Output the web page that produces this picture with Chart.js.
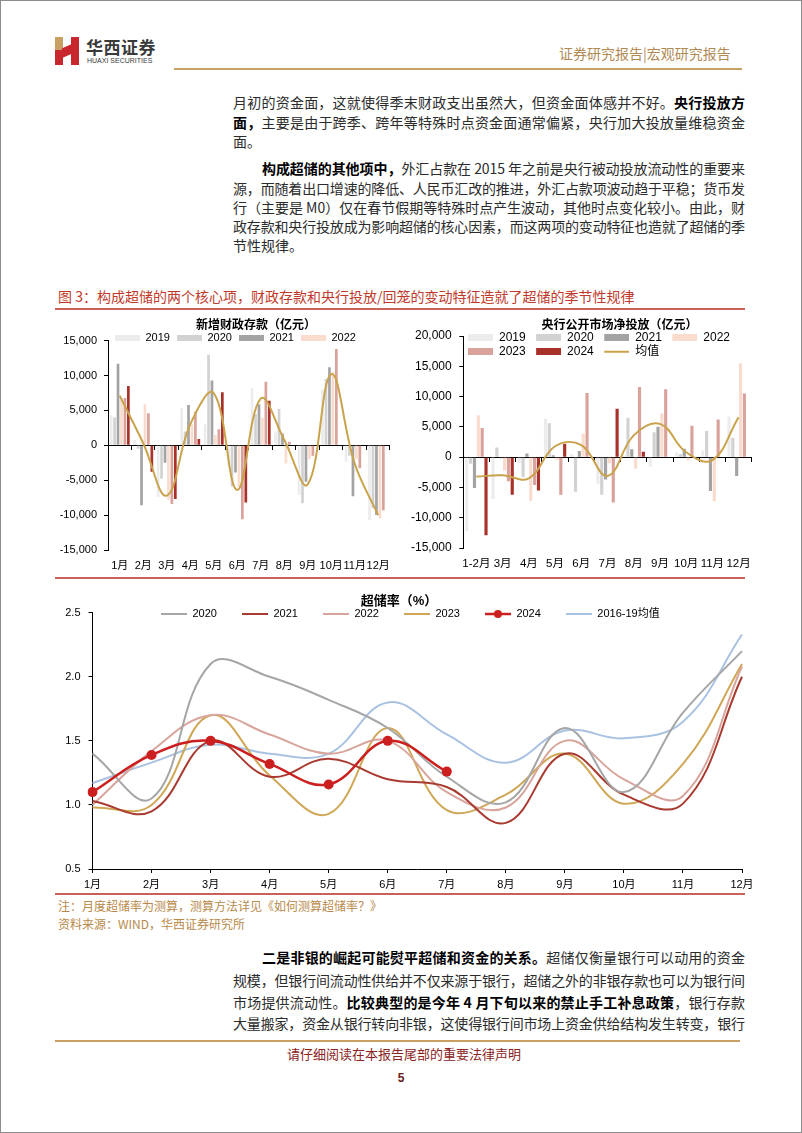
<!DOCTYPE html>
<html lang="zh-CN">
<head>
<meta charset="utf-8">
<script src="https://cdn.jsdelivr.net/npm/chart.js@4.4.1/dist/chart.umd.min.js"></script>
<style>
  html,body{margin:0;padding:0;background:#fff;}
  #page{position:relative;width:802px;height:1133px;overflow:hidden;font-family:'Noto Sans CJK SC','Noto Sans',sans-serif;}
  .frame{position:absolute;left:0;top:0;width:800px;height:1131px;border:1px solid #8d8d8d;}
  .ln{position:absolute;left:233px;width:512px;height:20px;font-size:14px;line-height:20px;text-align:left;white-space:nowrap;color:#2b2b2b;}
  .ln.ind{left:262px;width:483px;}
  .ln b{color:#000;font-weight:bold;}
  .abs{position:absolute;}
  canvas{position:absolute;}
</style>
</head>
<body>
<div id="page">
  <div class="frame"></div>

  <!-- logo -->
  <div class="abs" style="left:55px;top:37px;width:8px;height:13px;background:#c9a063;"></div>
  <div class="abs" style="left:55px;top:50px;width:8px;height:15px;background:#c8272d;"></div>
  <div class="abs" style="left:71px;top:37px;width:8px;height:28px;background:#c8272d;"></div>
  <div class="abs" style="left:62px;top:44px;width:10px;height:14px;background:#c8272d;clip-path:polygon(0 30%,100% 0,100% 70%,0 100%);"></div>
  <div class="abs" style="left:86px;top:37px;font-size:17px;line-height:20px;font-weight:bold;color:#3a3a3a;letter-spacing:0.5px;">华西证券</div>
  <div class="abs" style="left:87px;top:57px;font-family:'Liberation Sans',Arial,sans-serif;font-size:7px;line-height:8px;color:#3a3a3a;">HUAXI SECURITIES</div>
  <div class="abs" style="left:559px;top:44px;font-size:14px;line-height:18px;color:#b08a55;">证券研究报告|宏观研究报告</div>
  <div class="abs" style="left:174px;top:68px;width:568px;height:2px;background:#c9a063;"></div>

  <!-- paragraph text -->
  <div class="ln" style="top:92px;"><span>月初的资金面，这就使得季末财政支出虽然大，但资金面体感并不好。<b>央行投放方</b></span></div>
  <div class="ln" style="top:112px;"><span><b>面，</b>主要是由于跨季、跨年等特殊时点资金面通常偏紧，央行加大投放量维稳资金</span></div>
  <div class="ln end" style="top:131px;"><span>面。</span></div>

  <div class="ln ind" style="top:158px;"><span><b>构成超储的其他项中，</b>外汇占款在 2015 年之前是央行被动投放流动性的重要来</span></div>
  <div class="ln" style="top:178px;"><span>源，而随着出口增速的降低、人民币汇改的推进，外汇占款项波动趋于平稳；货币发</span></div>
  <div class="ln" style="top:197px;"><span>行（主要是 M0）仅在春节假期等特殊时点产生波动，其他时点变化较小。由此，财</span></div>
  <div class="ln" style="top:216px;"><span>政存款和央行投放成为影响超储的核心因素，而这两项的变动特征也造就了超储的季</span></div>
  <div class="ln end" style="top:235px;"><span>节性规律。</span></div>

  <!-- figure caption -->
  <div class="abs" style="left:58px;top:286px;font-size:14px;line-height:20px;color:#c0392b;">图 3：构成超储的两个核心项，财政存款和央行投放/回笼的变动特征造就了超储的季节性规律</div>
  <div class="abs" style="left:55px;top:308px;width:690px;height:1.5px;background:#c9605a;"></div>

  <canvas id="c1" width="350" height="262" style="left:50px;top:312px;"></canvas>
  <canvas id="c2" width="372" height="260" style="left:400px;top:312px;"></canvas>
  <div class="abs" style="left:55px;top:577px;width:690px;height:1.5px;background:#c9605a;"></div>
  <canvas id="c3" width="712" height="300" style="left:50px;top:592px;"></canvas>

  <div class="abs" style="left:55px;top:893px;width:690px;height:1.5px;background:#c9605a;"></div>
  <div class="abs" style="left:58px;top:897px;font-size:12px;line-height:17px;color:#b8894a;">注：月度超储率为测算，测算方法详见《如何测算超储率？》</div>
  <div class="abs" style="left:58px;top:915px;font-size:12px;line-height:17px;color:#b8894a;">资料来源：WIND，华西证券研究所</div>

  <!-- bottom paragraph -->
  <div class="ln ind" style="top:947px;"><span><b>二是非银的崛起可能熨平超储和资金的关系。</b>超储仅衡量银行可以动用的资金</span></div>
  <div class="ln" style="top:970px;"><span>规模，但银行间流动性供给并不仅来源于银行，超储之外的非银存款也可以为银行间</span></div>
  <div class="ln" style="top:992px;"><span>市场提供流动性。<b>比较典型的是今年 4 月下旬以来的禁止手工补息政策</b>，银行存款</span></div>
  <div class="ln" style="top:1013px;"><span>大量搬家，资金从银行转向非银，这使得银行间市场上资金供给结构发生转变，银行</span></div>

  <!-- footer -->
  <div class="abs" style="left:55px;top:1040px;width:685px;height:2px;background:#c9a063;"></div>
  <div class="abs" style="left:0;width:802px;top:1045px;text-align:center;font-size:13px;line-height:18px;color:#8b2323;padding-left:6px;box-sizing:border-box;">请仔细阅读在本报告尾部的重要法律声明</div>
  <div class="abs" style="left:0;width:802px;top:1070px;text-align:center;font-family:'Liberation Sans',Arial,sans-serif;font-size:12px;line-height:16px;font-weight:bold;color:#6b1a1a;">5</div>
</div>

<script>
// ---------------- data ----------------
const fiscalMonths = ['1月','2月','3月','4月','5月','6月','7月','8月','9月','10月','11月','12月'];
const fiscal2019 = [4300, 800, -7400, 5300, 3000, -3000, 8200, 2000, -7100, 8000, -2300, -10700];
const fiscal2020 = [4000, -500, -4800, 2000, 13000, -5900, 4500, 5200, -8300, 9500, -1500, -9000];
const fiscal2021 = [11700, -8600, -2500, 5800, 9300, -3900, 5900, 1700, -5200, 11200, -7300, -10000];
const fiscal2022 = [6500, 5900, -7800, 3000, 1500, -6000, 4000, -2600, -2000, 10500, -2000, -10500];
const fiscal2023 = [6800, 4600, -8400, 4800, 2300, -10600, 9100, 500, -1500, 13800, -3300, -9300];
const fiscal2024 = [8500, -3800, -7700, 900, 7600, -8200, 6400, null, null, null, null, null];
const fiscalMean = [7100, 300, -7200, 3000, 7500, -6400, 6700, 800, -5600, 10200, -2600, -10000];

const omoMonths = ['1-2月','3月','4月','5月','6月','7月','8月','9月','10月','11月','12月'];
const omo2019 = [-12200, -6900, -1000, 6400, 500, -4400, 300, -1600, 800, 1100, 6700];
const omo2020 = [-1100, 1600, -3300, 5600, -5700, -6200, 6500, 4100, 500, 4300, 3200];
const omo2021 = [-5100, -200, 600, 300, 1000, -3700, 1300, 5000, 1400, -5600, -3100];
const omo2022 = [6900, -2200, -7200, -500, 3900, -1000, -1900, 7200, -500, -7300, 15500];
const omo2023 = [4800, -4000, -4600, -6200, 10600, -7500, 11600, 11200, 5200, 6200, 10500];
const omo2024 = [-12900, -6200, -5500, 2200, 0, 8000, 900, null, null, null, null];
const omoMean = [-3200, -3000, -3500, 1800, 2000, -3100, 3600, 5500, 800, -500, 6600];

const rateMonths = ['1月','2月','3月','4月','5月','6月','7月','8月','9月','10月','11月','12月'];
const rate2020 = [1.40, 1.05, 2.10, 2.00, 1.82, 1.60, 1.22, 1.02, 1.60, 1.10, 1.72, 2.20];
const rate2021 = [1.03, 0.95, 1.50, 1.22, 1.36, 1.20, 1.14, 0.86, 1.40, 1.08, 1.01, 2.00];
const rate2022 = [1.00, 1.42, 1.70, 1.55, 1.40, 1.50, 1.10, 0.98, 1.50, 1.20, 1.07, 2.08];
const rate2023 = [0.98, 1.00, 1.70, 1.23, 0.93, 1.60, 0.96, 1.08, 1.40, 1.01, 1.32, 2.10];
const rate2024 = [1.10, 1.39, 1.50, 1.32, 1.16, 1.50, 1.26, null, null, null, null, null];
const rate1619 = [1.17, 1.33, 1.47, 1.40, 1.40, 1.80, 1.55, 1.33, 1.58, 1.52, 1.65, 2.33];
const rateTicks = [0.5, 1.0, 1.5, 2.0, 2.5];

// ---------------- justify body lines ----------------
document.querySelectorAll('.ln:not(.end)').forEach(el => {
  const span = el.firstElementChild;
  const w = span.getBoundingClientRect().width;
  const n = Array.from(el.textContent).length;
  const target = el.clientWidth;
  if (n > 1) el.style.letterSpacing = ((target - w) / (n - 1)) + 'px';
});

// ---------------- styles ----------------
const COL = {
  y2019:'#ececec', y2020:'#d2d2d2', y2021:'#a3a3a3', y2022:'#f9dccd', y2023:'#d9a29b', y2024:'#a8322a',
  mean:'#c9a24c',
  l2020:'#a6a6a6', l2021:'#a83a30', l2022:'#d8a59c', l2023:'#cfa756', l2024:'#cc1f1f', l1619:'#a9c2e2'
};
Chart.defaults.font.family = "'Liberation Sans', Arial, 'Noto Sans CJK SC', sans-serif";
Chart.defaults.color = '#000';

function rectMarker(color, w, h, lead) {
  lead = lead || 0;
  const c = document.createElement('canvas'); c.width = w + lead; c.height = h;
  const x = c.getContext('2d'); x.fillStyle = color; x.fillRect(lead, 0, w, h); return c;
}
function lineMarker(color, w, lw, dot, lead) {
  lead = lead || 0;
  const h = dot ? 10 : 4;
  const c = document.createElement('canvas'); c.width = w + lead; c.height = h;
  const x = c.getContext('2d');
  x.strokeStyle = color; x.lineWidth = lw;
  x.beginPath(); x.moveTo(lead, h / 2); x.lineTo(lead + w, h / 2); x.stroke();
  if (dot) { x.fillStyle = color; x.beginPath(); x.arc(lead + w / 2, h / 2, 4, 0, Math.PI * 2); x.fill(); }
  return c;
}

const placer = {
  id: 'placer',
  afterInit(chart) {
    const L = chart.legend;
    if (L && !L._zeroFit) {
      const f = L.fit;
      L.fit = function () { f.call(this); this.height = 0; };
      L._zeroFit = true;
    }
  },
  afterLayout(chart, args, o) {
    const L = chart.legend, T = chart.titleBlock;
    if (o && o.legend && L) {
      L.left = o.legend.left; L.right = o.legend.right; L.width = L.right - L.left;
      L.top = o.legend.top; L.bottom = o.legend.top + 40;
    }
    if (o && o.titleX != null && T) {
      const w = T.right - T.left;
      T.left = o.titleX - w / 2; T.right = o.titleX + w / 2;
    }
  }
};

function legendLabels(markers, extra) {
  return Object.assign({
    usePointStyle: true,
    sort: (a, b) => a.datasetIndex - b.datasetIndex,
    generateLabels(chart) {
      const items = Chart.defaults.plugins.legend.labels.generateLabels(chart);
      items.forEach(it => { it.pointStyle = markers[it.datasetIndex]; });
      return items;
    }
  }, extra);
}

function axisY(min, max, step, width, pad, size) {
  return {
    min, max,
    ticks: { stepSize: step, padding: pad, font: { size }, color: '#000' },
    grid: { drawOnChartArea: false, tickLength: 4, color: '#000' },
    border: { color: '#000' },
    afterFit: s => { s.width = width; }
  };
}

// ---------------- chart 1 (canvas at page 50,312) ----------------
const barDs = (label, data, color) => ({ label, data, backgroundColor: color, borderWidth: 0 });
new Chart(document.getElementById('c1'), {
  type: 'bar',
  data: {
    labels: fiscalMonths,
    datasets: [
      barDs('2019', fiscal2019, COL.y2019),
      barDs('2020', fiscal2020, COL.y2020),
      barDs('2021', fiscal2021, COL.y2021),
      barDs('2022', fiscal2022, COL.y2022),
      barDs('2023', fiscal2023, COL.y2023),
      barDs('2024', fiscal2024, COL.y2024),
      { type: 'line', label: '均值', data: fiscalMean, borderColor: COL.mean, backgroundColor: COL.mean,
        borderWidth: 2, pointRadius: 0, tension: 0.4, order: -1 }
    ]
  },
  options: {
    responsive: false, animation: false, devicePixelRatio: 1,
    layout: { padding: { left: 0, right: 10, top: 0, bottom: 0 } },
    datasets: { bar: { categoryPercentage: 0.88, barPercentage: 0.78 } },
    plugins: {
      title: { display: true, text: '新增财政存款（亿元）', color: '#000', font: { size: 12, weight: 'bold' }, padding: { top: 6, bottom: 8.3 } },
      legend: { display: true, align: 'start',
        labels: legendLabels([
          rectMarker(COL.y2019, 25, 6), rectMarker(COL.y2020, 25, 6), rectMarker(COL.y2021, 25, 6),
          rectMarker(COL.y2022, 25, 6), rectMarker(COL.y2023, 25, 6), rectMarker(COL.y2024, 25, 6),
          lineMarker(COL.mean, 25, 2, false)
        ], { pointStyleWidth: 25, padding: 7, font: { size: 11 }, color: '#000', filter: it => it.datasetIndex < 4 }) },
      tooltip: { enabled: false },
      placer: { legend: { left: 108 - 50, right: 350, top: 325.2 - 312 }, titleX: 256 - 50 }
    },
    scales: {
      x: { position: { y: 0 }, offset: true, grid: { offset: true, drawOnChartArea: false, tickLength: 4, color: '#000' },
           border: { color: '#000' }, ticks: { display: false } },
      x2: { type: 'category', position: 'bottom', offset: true, grid: { display: false, drawTicks: false }, border: { display: false },
            ticks: { font: { size: 11 }, color: '#000', padding: 9.8, maxRotation: 0, autoSkip: false },
            afterFit: s => { s.height = 24; } },
      y: axisY(-15000, 15000, 5000, 58, 7, 11)
    }
  },
  plugins: [placer]
});

// ---------------- chart 2 (canvas at page 400,312) ----------------
new Chart(document.getElementById('c2'), {
  type: 'bar',
  data: {
    labels: omoMonths,
    datasets: [
      barDs('2019', omo2019, COL.y2019),
      barDs('2020', omo2020, COL.y2020),
      barDs('2021', omo2021, COL.y2021),
      barDs('2022', omo2022, COL.y2022),
      barDs('2023', omo2023, COL.y2023),
      barDs('2024', omo2024, COL.y2024),
      { type: 'line', label: '均值', data: omoMean, borderColor: COL.mean, backgroundColor: COL.mean,
        borderWidth: 2, pointRadius: 0, tension: 0.4, order: -1 }
    ]
  },
  options: {
    responsive: false, animation: false, devicePixelRatio: 1,
    layout: { padding: { left: 0, right: 20.3, top: 0, bottom: 0 } },
    datasets: { bar: { categoryPercentage: 0.88, barPercentage: 0.82 } },
    plugins: {
      title: { display: true, text: '央行公开市场净投放（亿元）', color: '#000', font: { size: 12, weight: 'bold' }, padding: { top: 6, bottom: 3.6 } },
      legend: { display: true, align: 'start',
        labels: legendLabels([
          rectMarker(COL.y2019, 25, 7, 8), rectMarker(COL.y2020, 25, 7, 8), rectMarker(COL.y2021, 25, 7, 8),
          rectMarker(COL.y2022, 25, 7, 8), rectMarker(COL.y2023, 25, 7, 8), rectMarker(COL.y2024, 25, 7, 8),
          lineMarker(COL.mean, 25, 2, false, 8)
        ], { pointStyleWidth: 33, padding: 2.4, font: { size: 12 }, color: '#000' }) },
      tooltip: { enabled: false },
      placer: { legend: { left: 457.6 - 400, right: 362, top: 328.9 - 312 }, titleX: 619.5 - 400 }
    },
    scales: {
      x: { position: { y: 0 }, offset: true, grid: { offset: true, drawOnChartArea: false, tickLength: 4, color: '#000' },
           border: { color: '#000' }, ticks: { display: false } },
      x2: { type: 'category', position: 'bottom', offset: true, grid: { display: false, drawTicks: false }, border: { display: false },
            ticks: { font: { size: 11.5 }, color: '#000', padding: 9.1, maxRotation: 0, autoSkip: false },
            afterFit: s => { s.height = 24; } },
      y: axisY(-15000, 20000, 5000, 63.3, 7.6, 12)
    }
  },
  plugins: [placer]
});

// ---------------- chart 3 (canvas at page 50,592) ----------------
const lineDs = (label, data, color, extra) => Object.assign({ label, data, borderColor: color, backgroundColor: color,
  borderWidth: 2, pointRadius: 0, tension: 0.4 }, extra || {});
new Chart(document.getElementById('c3'), {
  type: 'line',
  data: {
    labels: rateMonths,
    datasets: [
      lineDs('2020', rate2020, COL.l2020),
      lineDs('2021', rate2021, COL.l2021),
      lineDs('2022', rate2022, COL.l2022),
      lineDs('2023', rate2023, COL.l2023),
      lineDs('2024', rate2024, COL.l2024, { borderWidth: 2.5, pointRadius: 5, pointBackgroundColor: COL.l2024, pointBorderWidth: 0, order: -1 }),
      lineDs('2016-19均值', rate1619, COL.l1619)
    ]
  },
  options: {
    responsive: false, animation: false, devicePixelRatio: 1,
    layout: { padding: { left: 0, right: 20, top: 0, bottom: 0 } },
    plugins: {
      title: { display: true, text: '超储率（%）', color: '#000', font: { size: 13, weight: 'bold' }, padding: { top: 2, bottom: 3.1 } },
      legend: { display: true, align: 'start',
        labels: legendLabels([
          lineMarker(COL.l2020, 26, 2, false), lineMarker(COL.l2021, 26, 2, false), lineMarker(COL.l2022, 26, 2, false),
          lineMarker(COL.l2023, 26, 2, false), lineMarker(COL.l2024, 26, 2.5, true), lineMarker(COL.l1619, 26, 2, false)
        ], { pointStyleWidth: 26, padding: 25, font: { size: 11 }, color: '#000' }) },
      tooltip: { enabled: false },
      placer: { legend: { left: 136 - 50, right: 750, top: 583.5 - 592 }, titleX: 399 - 50 }
    },
    scales: {
      x: { offset: false, grid: { offset: false, drawOnChartArea: false, tickLength: 4, color: '#000' }, border: { color: '#000' },
           ticks: { font: { size: 11 }, color: '#000', padding: 5.5, maxRotation: 0, autoSkip: false },
           afterFit: s => { s.height = 23; } },
      y: { min: rateTicks[0], max: rateTicks[rateTicks.length - 1],
           afterBuildTicks: s => { s.ticks = rateTicks.map(v => ({ value: v })); },
           ticks: { padding: 8, font: { size: 11 }, color: '#000', callback: v => Number(v).toFixed(1) },
           grid: { drawOnChartArea: false, tickLength: 4, color: '#000' }, border: { color: '#000' },
           afterFit: s => { s.width = 42.5; } }
    }
  },
  plugins: [placer]
});
</script>
</body>
</html>
